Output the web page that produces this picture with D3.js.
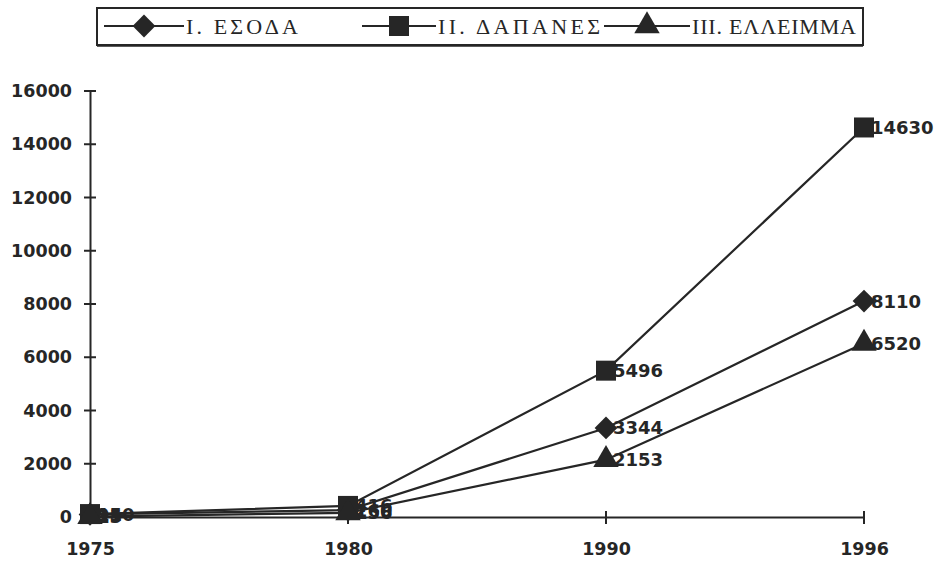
<!DOCTYPE html>
<html><head><meta charset="utf-8">
<script src="https://cdn.jsdelivr.net/npm/d3@7"></script>
<style>body{margin:0;background:#fff}svg{display:block}</style>
</head><body><svg id="c" width="941" height="565"></svg>
<script>
const years = ["1975","1980","1990","1996"];
const seriesNames = ["Ι. ΕΣΟΔΑ","ΙΙ. ΔΑΠΑΝΕΣ","ΙΙΙ. ΕΛΛΕΙΜΜΑ"];
const revenue = [95, 260, 3344, 8110];
const expenses = [110, 416, 5496, 14630];
const deficit = [15, 156, 2153, 6520];
const yTicks = [0,2000,4000,6000,8000,10000,12000,14000,16000];

const svg = d3.select("#c");
const ink = "#262626";
const sans = "DejaVu Sans, Verdana, sans-serif";
const x = d3.scalePoint().domain(years).range([90, 864]);
const y = d3.scaleLinear().domain([0,16000]).range([517, 91]);

// axes
const yAx = svg.append("g").attr("transform","translate(90,0)")
  .call(d3.axisLeft(y).tickValues(yTicks).tickFormat(d3.format("d")).tickSize(0).tickPadding(18));
yAx.select(".domain").attr("stroke",ink).attr("stroke-width",2);
yAx.selectAll("text").attr("font-family",sans).attr("font-weight","bold").attr("font-size",17.5).attr("fill",ink);
svg.append("g").selectAll("line").data(yTicks).join("line")
  .attr("x1",84).attr("x2",96).attr("y1",d=>y(d)).attr("y2",d=>y(d)).attr("stroke",ink).attr("stroke-width",2);

const xAx = svg.append("g").attr("transform","translate(0,517)")
  .call(d3.axisBottom(x).tickSize(0).tickPadding(26));
xAx.select(".domain").attr("stroke",ink).attr("stroke-width",2);
xAx.selectAll("text").attr("font-family",sans).attr("font-weight","bold").attr("font-size",17.5).attr("fill",ink);
svg.append("g").selectAll("line").data(years).join("line")
  .attr("x1",d=>x(d)).attr("x2",d=>x(d)).attr("y1",511).attr("y2",524).attr("stroke",ink).attr("stroke-width",2);

const series = [
  {name:seriesNames[0], vals:revenue, sym:d3.symbolDiamond2, size:330},
  {name:seriesNames[1], vals:expenses, sym:d3.symbolSquare, size:400},
  {name:seriesNames[2], vals:deficit, sym:d3.symbolTriangle, size:280}
];
const line = d3.line().x((d,i)=>x(years[i])).y(d=>y(d));
series.forEach(s=>{
  svg.append("path").attr("d",line(s.vals)).attr("fill","none").attr("stroke",ink).attr("stroke-width",2.2);
});
series.forEach(s=>{
  svg.append("g").selectAll("path").data(s.vals).join("path")
    .attr("transform",(d,i)=>`translate(${x(years[i])},${y(d)})`)
    .attr("d",d3.symbol().type(s.sym).size(s.size)).attr("fill",ink);
});
series.forEach(s=>{
  svg.append("g").selectAll("text").data(s.vals).join("text")
    .attr("x",(d,i)=>x(years[i])+7).attr("y",d=>y(d)).attr("dy","0.36em")
    .attr("font-family",sans).attr("font-weight","bold").attr("font-size",18).attr("fill",ink)
    .text(d=>d);
});

// legend
const lg = svg.append("g");
lg.append("rect").attr("x",97).attr("y",8).attr("width",766).attr("height",37).attr("fill","none").attr("stroke",ink).attr("stroke-width",2);
lg.append("line").attr("x1",97).attr("x2",863).attr("y1",46).attr("y2",46).attr("stroke",ink).attr("stroke-width",1.5);
const legX = [104, 362, 604];
const legW = [80, 74, 86];
const legTextW = [112, 162, 164];
series.forEach((s,i)=>{
  const g = lg.append("g").attr("transform",`translate(${legX[i]},26)`);
  g.append("line").attr("x1",0).attr("x2",legW[i]).attr("stroke",ink).attr("stroke-width",2);
  g.append("path").attr("transform",`translate(${legW[i]/2},0)`).attr("d",d3.symbol().type(s.sym).size(s.size)).attr("fill",ink);
  g.append("text").attr("x",legW[i]+2).attr("dy","0.35em").attr("font-family","Liberation Serif, Times New Roman, serif")
    .attr("font-size",22).attr("textLength",legTextW[i]).attr("lengthAdjust","spacing").attr("fill",ink).text(s.name);
});
</script></body></html>
